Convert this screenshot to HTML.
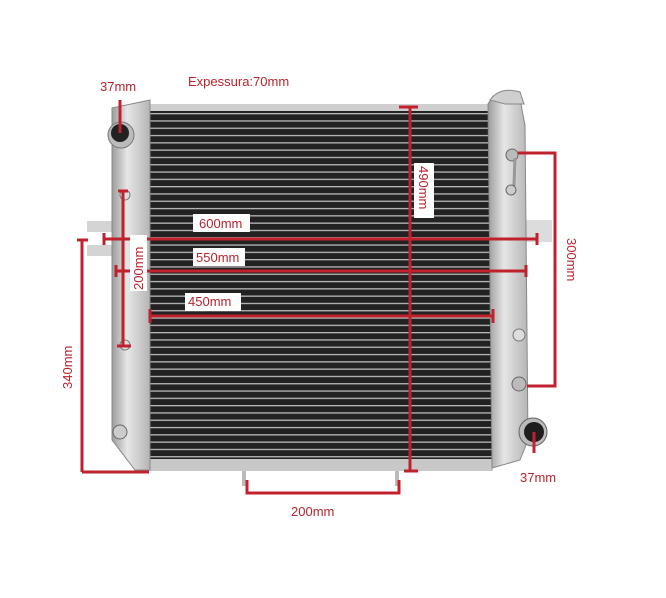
<!DOCTYPE html>
<html><head><meta charset="utf-8"><style>
html,body{margin:0;padding:0;background:#fff}
svg{display:block}
text{font-family:"Liberation Sans",sans-serif;font-size:13px;fill:#b8232e}
</style></head><body>
<svg width="666" height="598" viewBox="0 0 666 598" xmlns="http://www.w3.org/2000/svg">
<defs>
<pattern id="fins" x="0" y="113" width="10" height="7.3" patternUnits="userSpaceOnUse">
<rect width="10" height="7.3" fill="#222"/>
<rect y="0" width="10" height="1.3" fill="#b9b9b9"/>
</pattern>
<linearGradient id="al" x1="0" x2="1">
<stop offset="0" stop-color="#9c9c9c"/><stop offset="0.4" stop-color="#e6e6e6"/><stop offset="1" stop-color="#b5b5b5"/>
</linearGradient>
</defs>
<rect x="87" y="221" width="28" height="11" fill="#d4d4d4"/>
<rect x="87" y="245" width="28" height="11" fill="#d4d4d4"/>
<rect x="520" y="220" width="32" height="22" fill="#dcdcdc"/>
<rect x="242" y="466" width="4" height="20" fill="#bbb"/>
<rect x="395" y="466" width="4" height="20" fill="#bbb"/>
<rect x="148" y="104" width="345" height="8" fill="#cfcfcf"/>
<rect x="148" y="458" width="345" height="13" fill="#c8c8c8"/>
<rect x="150" y="111" width="342" height="348" fill="url(#fins)"/>
<path d="M112 108 L150 100 L150 470 L135 470 L112 440 Z" fill="url(#al)" stroke="#888" stroke-width="1"/>
<path d="M488 104 L493 96 L520 96 L522 110 L525 125 L528 440 L520 460 L492 468 Z" fill="url(#al)" stroke="#888" stroke-width="1"/>
<path d="M490 100 Q500 86 520 92 L524 104 L505 104 Z" fill="#cfcfcf" stroke="#888"/>
<circle cx="121" cy="135" r="13" fill="#bbb" stroke="#777"/>
<circle cx="120" cy="133" r="9" fill="#222"/>
<circle cx="125" cy="195" r="5" fill="#ddd" stroke="#777"/>
<circle cx="125" cy="345" r="5" fill="#ddd" stroke="#777"/>
<circle cx="120" cy="432" r="7" fill="#ccc" stroke="#666"/>
<circle cx="512" cy="155" r="6" fill="#bbb" stroke="#666"/>
<path d="M515 158 L514 186" stroke="#999" stroke-width="3" fill="none"/>
<circle cx="511" cy="190" r="5" fill="#ccc" stroke="#666"/>
<circle cx="519" cy="335" r="6" fill="#ddd" stroke="#777"/>
<circle cx="519" cy="384" r="7" fill="#bbb" stroke="#666"/>
<circle cx="533" cy="432" r="14" fill="#bbb" stroke="#666"/>
<circle cx="534" cy="432" r="10" fill="#1e1e1e"/>

<g stroke="#c0222d" stroke-width="3" fill="none">
<line x1="120" y1="100" x2="120" y2="133"/>
<line x1="410" y1="107" x2="410" y2="471"/>
<line x1="399" y1="107" x2="418" y2="107"/>
<line x1="404" y1="471" x2="418" y2="471"/>
<line x1="103" y1="239" x2="537" y2="239"/>
<line x1="104" y1="233" x2="104" y2="245"/>
<line x1="537" y1="233" x2="537" y2="245"/>
<line x1="116" y1="271" x2="526" y2="271"/>
<line x1="116" y1="265" x2="116" y2="277"/>
<line x1="526" y1="265" x2="526" y2="277"/>
<line x1="150" y1="316" x2="493" y2="316"/>
<line x1="150" y1="309" x2="150" y2="323"/>
<line x1="493" y1="309" x2="493" y2="323"/>
<line x1="123" y1="191" x2="123" y2="346"/>
<line x1="118" y1="191" x2="128" y2="191"/>
<line x1="117" y1="346" x2="131" y2="346"/>
<line x1="82" y1="240" x2="82" y2="472"/>
<line x1="77" y1="240" x2="88" y2="240"/>
<line x1="82" y1="472" x2="149" y2="472"/>
<polyline points="518,153 555,153 555,386 527,386"/>
<line x1="534" y1="432" x2="534" y2="453"/>
<polyline points="247,480 247,493 399,493 399,480"/>
</g>

<rect x="193" y="214" width="57" height="18" fill="#fff"/>
<rect x="193" y="248" width="52" height="18" fill="#fff"/>
<rect x="185" y="293" width="56" height="18" fill="#fff"/>
<rect x="414" y="163" width="20" height="55" fill="#fff"/>
<rect x="130" y="235" width="17" height="56" fill="#fff"/>

<text x="100" y="91">37mm</text>
<text x="188" y="86">Expessura:70mm</text>
<text x="199" y="228">600mm</text>
<text x="196" y="262">550mm</text>
<text x="188" y="306">450mm</text>
<text x="520" y="482">37mm</text>
<text x="291" y="516">200mm</text>
<text transform="translate(419,166) rotate(90)">490mm</text>
<text transform="translate(567,238) rotate(90)">300mm</text>
<text transform="translate(143,290) rotate(-90)">200mm</text>
<text transform="translate(72,389) rotate(-90)">340mm</text>
</svg>
</body></html>
